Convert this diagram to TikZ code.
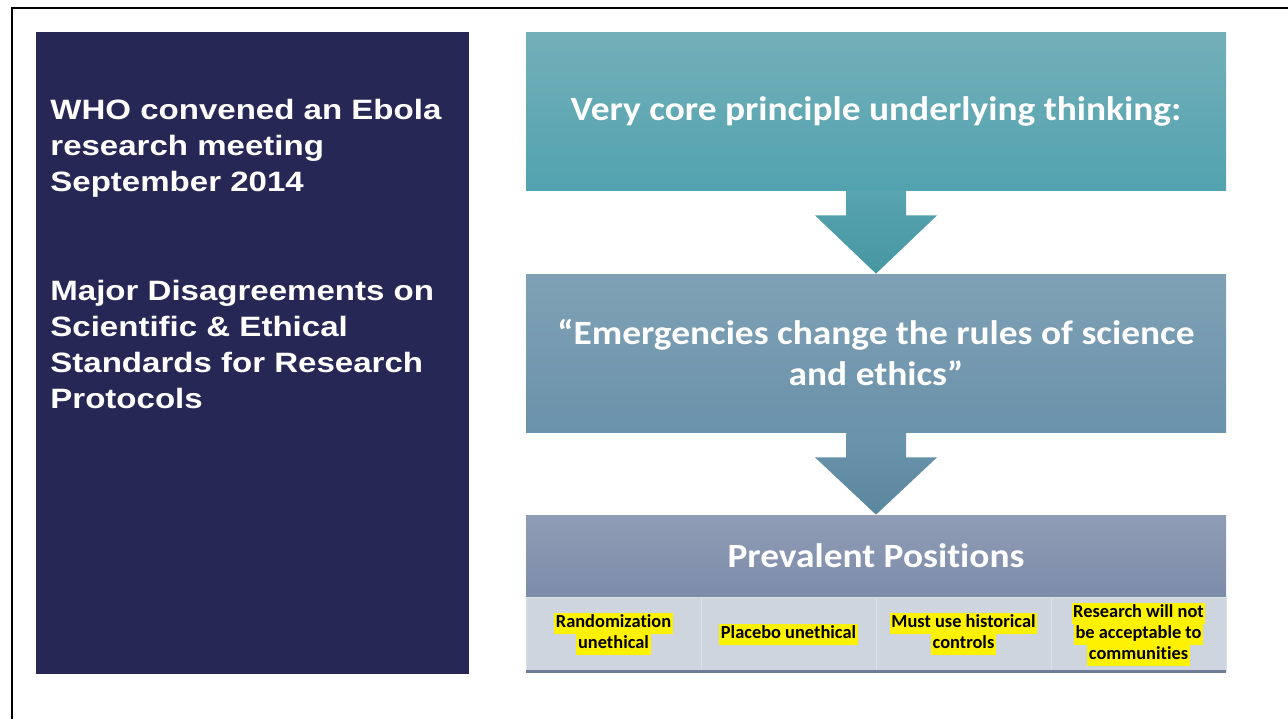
\documentclass[tikz,border=0pt]{standalone}
\usepackage{fontspec}
\setmainfont{Carlito}[Ligatures=NoCommon]
\newfontfamily\widecal[FakeStretch=1.10, Ligatures=NoCommon]{Carlito}
\newfontfamily\arialfont[FakeStretch=1.18]{Liberation Sans}
\usetikzlibrary{positioning, calc}
\definecolor{navy}{RGB}{38,39,84}
\definecolor{tealtop}{RGB}{116,175,185}
\definecolor{tealbot}{RGB}{81,163,175}
\definecolor{bluetop}{RGB}{128,161,181}
\definecolor{bluebot}{RGB}{106,146,170}
\definecolor{greytop}{RGB}{143,156,181}
\definecolor{greybot}{RGB}{125,140,169}
\definecolor{cellfill}{RGB}{206,213,223}
\definecolor{cellline}{RGB}{218,224,232}
\definecolor{ruleline}{RGB}{110,124,151}
\newcommand{\hlt}[1]{{\setlength{\fboxsep}{0pt}\colorbox{yellow}{\strut\hspace{0.8pt}#1\hspace{0.8pt}}}}
\tikzset{
	panel/.style={minimum width=350pt, inner sep=0pt, text=white, align=center,
		font=\widecal\fontsize{17}{20.5}\selectfont\bfseries},
	lefttext/.style={anchor=north west, inner sep=0pt, text=white, align=left,
		font=\arialfont\fontsize{14}{18}\selectfont\bfseries},
	cell/.style={minimum width=87.5pt, minimum height=37pt, inner sep=0pt, align=center,
		fill=cellfill, draw=cellline, line width=0.4pt,
		font=\fontsize{9.2}{10.5}\selectfont\bfseries}
}

\begin{document}
\begin{tikzpicture}[x=0.5pt, y=-0.5pt, on grid, node distance=87.5pt]
	\useasboundingbox (0,0) rectangle (1288,719);
	\draw[line width=1.2pt] (12,719) -- (12,8) -- (1288,8);
	% left panel
	\node (who) [fill=navy, minimum width=216.5pt, minimum height=321pt, inner sep=0pt, anchor=north west] at (36,32) {};
	\node (meeting) [lefttext] at (50,99) {WHO convened an Ebola\\research meeting\\September 2014};
	\node (disagree) [lefttext] at (50,280) {Major Disagreements on\\Scientific \& Ethical\\Standards for Research\\Protocols};
	% right column
	\node (principle) [panel, minimum height=79pt, top color=tealtop, bottom color=tealbot] at (876,111) {Very core principle underlying thinking:};
	\node (rules) [panel, minimum height=79pt, top color=bluetop, bottom color=bluebot, below=121pt of principle] {“Emergencies change the rules of science\\and ethics”};
	\node (positions) [panel, minimum height=41pt, top color=greytop, bottom color=greybot, below=101.5pt of rules] {Prevalent Positions};
	\node (random) [cell] at (613.5,634) {\hlt{Randomization}\\\hlt{unethical}};
	\node (placebo) [cell, right=of random] {\hlt{Placebo unethical}};
	\node (historic) [cell, right=of placebo] {\hlt{Must use historical}\\\hlt{controls}};
	\node (accept) [cell, right=of historic] {\hlt{Research will not}\\\hlt{be acceptable to}\\\hlt{communities}};
	\draw[ruleline, line width=1.5pt] (random.south west) -- (accept.south east);
	% block arrows
	\foreach \from/\to/\ctop/\cbot in {principle/rules/{88,164,176}/{70,150,162}, rules/positions/{108,149,173}/{90,134,158}}{
		\definecolor{atop}{RGB}{\ctop}
		\definecolor{abot}{RGB}{\cbot}
		\shade[top color=atop, bottom color=abot]
			($(\from.south)+(-30,0)$) -- ($(\from.south)+(30,0)$) -- ($(\from.south)+(30,25)$)
			-- ($(\from.south)+(61,25)$) -- (\to.north) -- ($(\from.south)+(-61,25)$)
			-- ($(\from.south)+(-30,25)$) -- cycle;
	}
\end{tikzpicture}
\end{document}
